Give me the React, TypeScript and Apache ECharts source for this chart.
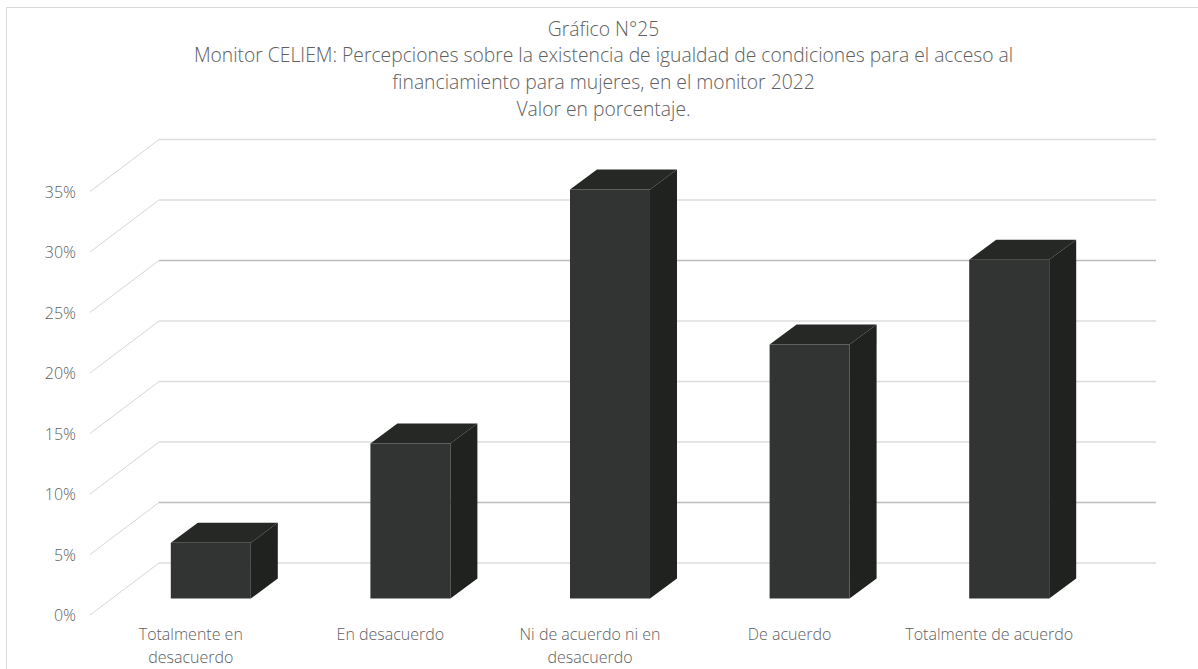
import React, { useEffect, useRef } from "react";
import * as echarts from "echarts";

const titleLines = [
  "Gráfico N°25",
  "Monitor CELIEM: Percepciones sobre la existencia de igualdad de condiciones para el acceso al",
  "financiamiento para mujeres, en el monitor 2022",
  "Valor en porcentaje.",
];
const categories = [
  "Totalmente en\ndesacuerdo",
  "En desacuerdo",
  "Ni de acuerdo ni en\ndesacuerdo",
  "De acuerdo",
  "Totalmente de acuerdo",
];
const values = [4.6, 12.8, 33.8, 21.0, 28.0];
const yTicks = [0, 5, 10, 15, 20, 25, 30, 35];
const strongTicks = [5, 25];

const FRONT = "#323433";
const TOP = "#262826";
const SIDE = "#20221f";
const TEXT = "#606060";
const FONT = "Open Sans";

export default function App() {
  const ref = useRef<HTMLDivElement>(null);
  useEffect(() => {
    const chart = echarts.init(ref.current!, undefined, { renderer: "svg" });
    chart.setOption({
      animation: false,
      backgroundColor: "#ffffff",
      textStyle: { fontFamily: FONT },
      title: {
        text: titleLines.join("\n"),
        left: 598.5,
        top: 10,
        textAlign: "center",
        textStyle: { fontFamily: FONT, fontSize: 19.3, fontWeight: 300, color: TEXT, lineHeight: 26.6 },
      },
      grid: { left: 91, width: 998, top: 191.5, height: 423.5 },
      xAxis: {
        type: "category",
        data: categories,
        axisLine: { show: false },
        axisTick: { show: false },
        splitLine: { show: false },
        axisLabel: { color: TEXT, fontSize: 16, fontWeight: 300, lineHeight: 22.5, margin: 8, interval: 0, fontFamily: FONT },
      },
      yAxis: {
        type: "value",
        min: 0,
        max: 35,
        interval: 5,
        axisLine: { show: false },
        axisTick: { show: false },
        splitLine: { show: false },
        axisLabel: { color: TEXT, fontSize: 16, fontWeight: 300, margin: 15, formatter: "{value}%", fontFamily: FONT },
      },
      graphic: [
        {
          type: "polyline",
          silent: true,
          shape: { points: [[6.5, 669], [6.5, 7.5], [1198, 7.5]] },
          style: { stroke: "#d9d9d9", lineWidth: 1, fill: "none" },
        },
      ],
      series: [
        {
          type: "custom",
          z: 1,
          silent: true,
          data: yTicks.map((t) => [0, t]),
          renderItem: (params: any, api: any) => {
            const v = api.value(1);
            const y = api.coord([0, v])[1];
            const cs = params.coordSys;
            const x0 = cs.x - 1;
            const x1 = cs.x + 68;
            const y1 = y - 52;
            const strong = strongTicks.includes(v);
            return {
              type: "group",
              children: [
                { type: "line", shape: { x1: x0, y1: y, x2: x1, y2: y1 }, style: { stroke: "#d6d6d6", lineWidth: 1 } },
                {
                  type: "line",
                  shape: { x1: x1, y1: y1, x2: cs.x + cs.width + 67, y2: y1 },
                  style: { stroke: strong ? "#bdbdbd" : "#dcdcdc", lineWidth: 1.5 },
                },
              ],
            };
          },
        },
        {
          type: "custom",
          z: 2,
          silent: true,
          data: values.map((v, i) => [i, v]),
          renderItem: (_: any, api: any) => {
            const [cx, yb] = api.coord([api.value(0), 0]);
            const yt = api.coord([api.value(0), api.value(1)])[1];
            const l = cx - 20;
            const r = cx + 60;
            const base = yb - 16.5;
            const top = yt - 16.5;
            const dx = 27;
            const dy = 20;
            return {
              type: "group",
              children: [
                { type: "rect", shape: { x: l, y: top, width: r - l, height: base - top }, style: { fill: FRONT } },
                {
                  type: "polygon",
                  shape: { points: [[l, top], [l + dx, top - dy], [r + dx, top - dy], [r, top]] },
                  style: { fill: TOP },
                },
                {
                  type: "polygon",
                  shape: { points: [[r, top], [r + dx, top - dy], [r + dx, base - dy], [r, base]] },
                  style: { fill: SIDE },
                },
              ],
            };
          },
        },
      ],
    });
    return () => chart.dispose();
  }, []);
  return <div ref={ref} style={{ position: "fixed", left: 0, top: 0, width: 1198, height: 669 }} />;
}
